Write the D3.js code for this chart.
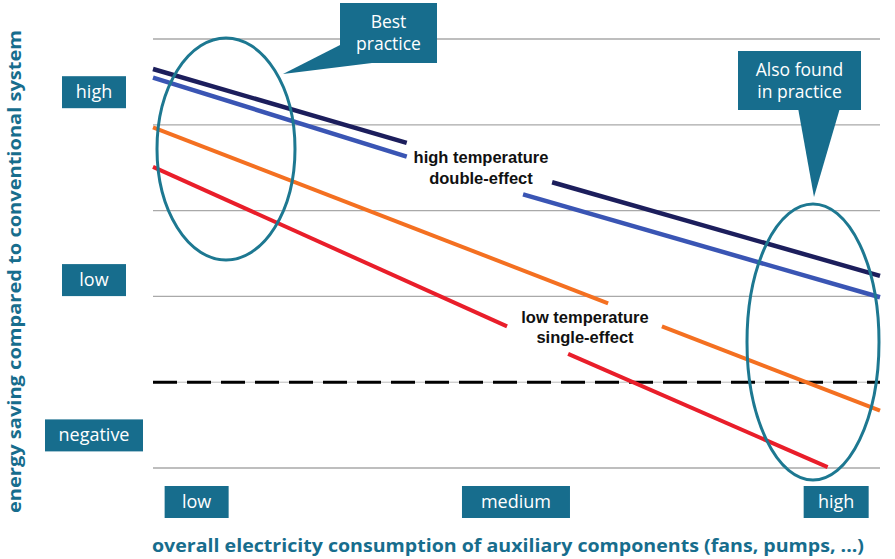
<!DOCTYPE html>
<html>
<head>
<meta charset="utf-8">
<script src="https://cdn.jsdelivr.net/npm/d3@7"></script>
<style>
  body { margin: 0; background: #fff; }
  svg { display: block; }
</style>
</head>
<body>
<div class="chart"></div>
<script>
// levels on the y axis: 0 = same as conventional (dashed line)
const gridLevels = [4, 3, 2, 1, -1];
const zeroLevel = 0;

const yCategories = ["high", "low", "negative"];
const yCategoryPos = [3.38, 1.19, -0.62];
const xCategories = ["low", "medium", "high"];
const xCategoryPos = [0.16, 4.25, 8.95];

// each series drawn as two pieces (gap left for the label)
const navySeries = [[[0, 3.65], [3.49, 2.79]], [[5.49, 2.33], [10, 1.24]]];
const blueSeries = [[[0, 3.55], [3.49, 2.63]], [[5.09, 2.19], [10, 0.99]]];
const orangeSeries = [[[0, 2.97], [6.26, 0.92]], [[7.0, 0.65], [10, -0.33]]];
const redSeries = [[[0, 2.51], [4.87, 0.65]], [[5.71, 0.33], [9.28, -0.99]]];

const seriesColors = ["#1c1e5c", "#3a55b4", "#f47021", "#e91e2a"];
const seriesWidths = [4.5, 4.5, 4, 4];

const width = 895, height = 559;
const teal = "#176d8d";

let svg = d3.select(".chart").append("svg")
  .attr("width", width)
  .attr("height", height);

let x = d3.scaleLinear().domain([0, 10]).range([153, 880]);
let y = d3.scaleLinear().domain([-1, 4]).range([468, 39]);

// grid lines
svg.selectAll(".grid")
  .data(gridLevels)
  .join("line")
  .attr("class", "grid")
  .attr("x1", x(0)).attr("x2", x(10))
  .attr("y1", d => y(d)).attr("y2", d => y(d))
  .attr("stroke", "#a9a9a9")
  .attr("stroke-width", 1.3);

svg.append("line")
  .attr("x1", x(0)).attr("x2", x(10))
  .attr("y1", y(zeroLevel)).attr("y2", y(zeroLevel))
  .attr("stroke", "#bbb")
  .attr("stroke-width", 1);
svg.append("line")
  .attr("x1", x(0)).attr("x2", x(10))
  .attr("y1", y(zeroLevel)).attr("y2", y(zeroLevel))
  .attr("stroke", "#000")
  .attr("stroke-width", 3)
  .attr("stroke-dasharray", "24,10");

// series lines
const line = d3.line().x(d => x(d[0])).y(d => y(d[1]));
[navySeries, blueSeries, orangeSeries, redSeries].forEach((s, i) => {
  svg.selectAll(".s" + i)
    .data(s)
    .join("path")
    .attr("class", "s" + i)
    .attr("d", line)
    .attr("fill", "none")
    .attr("stroke", seriesColors[i])
    .attr("stroke-width", seriesWidths[i]);
});

// line labels
const lab = svg.append("g")
  .attr("font-family", "Liberation Sans, Arial, sans-serif")
  .attr("font-weight", "bold")
  .attr("font-size", 16.5)
  .attr("text-anchor", "middle")
  .attr("fill", "#111");
lab.append("text").attr("x", 481).attr("y", 163).text("high temperature");
lab.append("text").attr("x", 481).attr("y", 184).text("double-effect");
lab.append("text").attr("x", 585).attr("y", 323).text("low temperature");
lab.append("text").attr("x", 585).attr("y", 343).text("single-effect");

// ellipses
svg.append("ellipse")
  .attr("cx", 226).attr("cy", 149).attr("rx", 69).attr("ry", 111)
  .attr("fill", "none").attr("stroke", "#1d7891").attr("stroke-width", 3);
svg.append("ellipse")
  .attr("cx", 813).attr("cy", 342).attr("rx", 66).attr("ry", 138)
  .attr("fill", "none").attr("stroke", "#1d7891").attr("stroke-width", 3);

// y category boxes
const boxFont = "Open Sans, Noto Sans, sans-serif";
const yBoxW = [64, 64, 98];
yCategories.forEach((c, i) => {
  const cx = 94;
  const w = yBoxW[i], h = 32;
  svg.append("rect")
    .attr("x", cx - w / 2).attr("y", y(yCategoryPos[i]) - h / 2)
    .attr("width", w).attr("height", h)
    .attr("fill", teal);
  svg.append("text")
    .attr("x", cx).attr("y", y(yCategoryPos[i]) + 6)
    .attr("text-anchor", "middle")
    .attr("font-family", boxFont).attr("font-size", 18)
    .attr("fill", "#fff").text(c);
});

// x category boxes
const xBoxW = [64, 108, 65];
xCategories.forEach((c, i) => {
  const left = x(xCategoryPos[i]);
  svg.append("rect")
    .attr("x", left).attr("y", 486)
    .attr("width", xBoxW[i]).attr("height", 32)
    .attr("fill", teal);
  svg.append("text")
    .attr("x", left + xBoxW[i] / 2).attr("y", 508)
    .attr("text-anchor", "middle")
    .attr("font-family", boxFont).attr("font-size", 18)
    .attr("fill", "#fff").text(c);
});

// callouts
function callout(bx, by, bw, bh, tri, lines, ty) {
  svg.append("polygon")
    .attr("points", tri.map(p => p.join(",")).join(" "))
    .attr("fill", teal);
  svg.append("rect")
    .attr("x", bx).attr("y", by).attr("width", bw).attr("height", bh)
    .attr("fill", teal);
  lines.forEach((t, i) => {
    svg.append("text")
      .attr("x", bx + bw / 2).attr("y", ty + i * 22)
      .attr("text-anchor", "middle")
      .attr("font-family", boxFont).attr("font-size", 17.5)
      .attr("fill", "#fff").text(t);
  });
}
callout(340, 3, 97, 60, [[342, 44], [372, 63], [283, 74]], ["Best", "practice"], 28);
callout(738, 51, 123, 59, [[798, 108], [840, 108], [814, 197]], ["Also found", "in practice"], 76);

// axis titles
svg.append("text")
  .attr("x", 152).attr("y", 552)
  .attr("textLength", 712).attr("lengthAdjust", "spacingAndGlyphs")
  .attr("font-family", boxFont).attr("font-weight", "bold").attr("font-size", 17.5)
  .attr("fill", teal)
  .text("overall electricity consumption of auxiliary components (fans, pumps, ...)");

svg.append("text")
  .attr("transform", "translate(21,513) rotate(-90)")
  .attr("textLength", 483).attr("lengthAdjust", "spacingAndGlyphs")
  .attr("font-family", boxFont).attr("font-weight", "bold").attr("font-size", 17.5)
  .attr("fill", teal)
  .text("energy saving compared to conventional system");
</script>
</body>
</html>
